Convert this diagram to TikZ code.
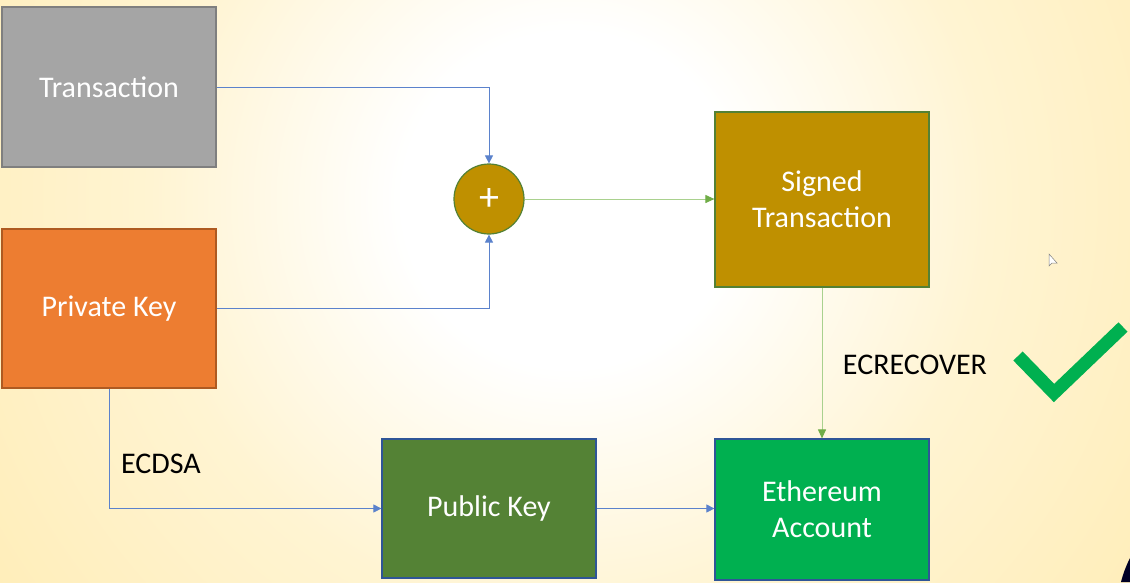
\documentclass[tikz,border=0pt]{standalone}
\usepackage{fontspec}
\setmainfont{Carlito}
\usepackage{tikz}
\usetikzlibrary{
	arrows.meta,									% 箭头样式
	positioning,									% 节点摆放
}
\definecolor{txgray}{HTML}{A5A5A5}
\definecolor{txgrayd}{HTML}{7F7F7F}
\definecolor{pkorange}{HTML}{ED7D31}
\definecolor{pkoranged}{HTML}{AE5A21}
\definecolor{signgold}{HTML}{BF9000}
\definecolor{boxgreen}{HTML}{538135}
\definecolor{pubgreen}{HTML}{548235}
\definecolor{ethgreen}{HTML}{00B050}
\definecolor{boxblue}{HTML}{2F5597}
\definecolor{lineblue}{HTML}{5B82CC}
\definecolor{linegreen}{HTML}{A9D18E}
\definecolor{tipgreen}{HTML}{70AD47}
\definecolor{checkgreen}{HTML}{00B050}
\definecolor{bgA}{HTML}{FFF4D2}
\definecolor{bgB}{HTML}{FFE7A0}
\definecolor{bgC}{HTML}{FFD966}
\pgfdeclareradialshading{bgglow}{\pgfpoint{0bp}{0bp}}{%
	color(0bp)=(white); color(6bp)=(white); color(15bp)=(bgA);
	color(35bp)=(bgB); color(50bp)=(bgC)}
\begin{document}
\begin{tikzpicture}[x=1pt, y=-1pt,
		box/.style={draw, line width=1.2pt, text=white, align=center, inner sep=0pt,
			font=\fontsize{30}{36}\selectfont, minimum width=214pt},
		lbl/.style={text=black, font=\fontsize{30}{34}\selectfont, inner sep=0pt},
		blueline/.style={draw=lineblue, line width=0.8pt, -{Triangle[width=8pt, length=8pt]}},
		greenline/.style={draw=linegreen, line width=1pt, -{Triangle[width=8pt, length=9pt, color=tipgreen]}},
	]
		% 背景
		\useasboundingbox (0,0) rectangle (1130,582);
		\clip (0,0) rectangle (1130,582);
		\shade[shading=bgglow] (570,200) circle (700);
		\fill[black!85!blue] (1130,558) .. controls (1126,566) and (1123,574) .. (1121,582) -- (1130,582) -- cycle;
		\draw[gray, fill=white, line width=0.5pt] (1049,254) -- (1049,266) -- (1052,263) -- (1057,263) -- cycle;
		% 节点
		\node[box, fill=txgray, draw=txgrayd, minimum height=160pt] (tx) at (109,87) {Transaction};
		\node[box, fill=pkorange, draw=pkoranged, minimum height=159pt] (pk) at (109,308.5) {Private Key};
		\node[circle, fill=signgold, draw=boxgreen, line width=1.2pt, minimum size=70pt, inner sep=0pt,
			text=white, font=\fontsize{40}{40}\selectfont] (plus) at (489,199) {+};
		\node[box, fill=signgold, draw=boxgreen, minimum height=175pt] (signed) at (822,199.5) {Signed\\Transaction};
		\node[box, fill=pubgreen, draw=boxblue, minimum height=139pt] (pub) at (489,508.5) {Public Key};
		\node[box, fill=ethgreen, draw=boxblue, minimum height=141pt] (eth) at (822,509.5) {Ethereum\\Account};
		\node[lbl] (ecdsa) at (161,464) {ECDSA};
		\node[lbl] (ecrecover) at (915,365) {ECRECOVER};
		% 连线
		\draw[blueline] (tx.east) -| (plus.north);
		\draw[blueline] (pk.east) -| (plus.south);
		\draw[greenline] (plus.east) -- (plus.east -| signed.west);
		\draw[greenline] (signed.south) -- (eth.north);
		\draw[blueline] (pk.south) |- (pub.west);
		\draw[blueline] (pub.east) -- (pub.east -| eth.west);
		% 对勾
		\draw[checkgreen, line width=13pt] (1018,356) -- (1054,393) -- (1123,327);
	\end{tikzpicture}
\end{document}
